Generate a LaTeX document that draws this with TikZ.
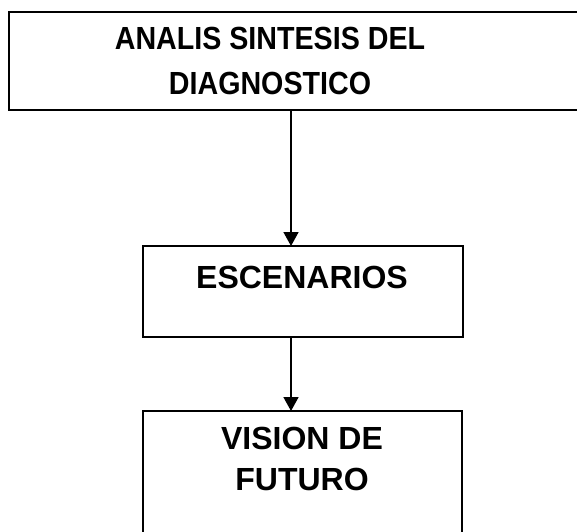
\documentclass[tikz,border=0pt]{standalone}
\usepackage{fontspec}
\setmainfont{Liberation Sans}
\newfontfamily\narrowfont[FakeStretch=0.895]{Liberation Sans}
\usetikzlibrary{arrows.meta}
\begin{document}
\begin{tikzpicture}[x=1pt,y=-1pt,
  boxline/.style={draw=black,line width=1.6pt},
  lbl/.style={inner sep=0pt,anchor=north,align=center,font=\bfseries\fontsize{32}{43}\selectfont},
  conn/.style={line width=1.6pt,-{Triangle[width=15pt,length=14pt]}}]
\useasboundingbox[fill=white] (0,0) rectangle (577,531);
\draw[boxline] (9,12) rectangle (600,110);
\draw[boxline] (143,246) rectangle (463,337);
\draw[boxline] (143,411) rectangle (462,560);
\coordinate (b1) at (291,110);
\coordinate (b2t) at (291,246);
\coordinate (b2b) at (291,337);
\coordinate (b3t) at (291,411);
\node[lbl,font=\narrowfont\bfseries\fontsize{32}{45}\selectfont] (t1) at (270,27) {ANALIS SINTESIS DEL\\DIAGNOSTICO};
\node[lbl] (t2) at (302,266) {ESCENARIOS};
\node[lbl,font=\bfseries\fontsize{32}{41}\selectfont] (t3) at (302,427) {VISION DE\\FUTURO};
\draw[conn] (b1) -- (b2t);
\draw[conn] (b2b) -- (b3t);
\end{tikzpicture}
\end{document}
